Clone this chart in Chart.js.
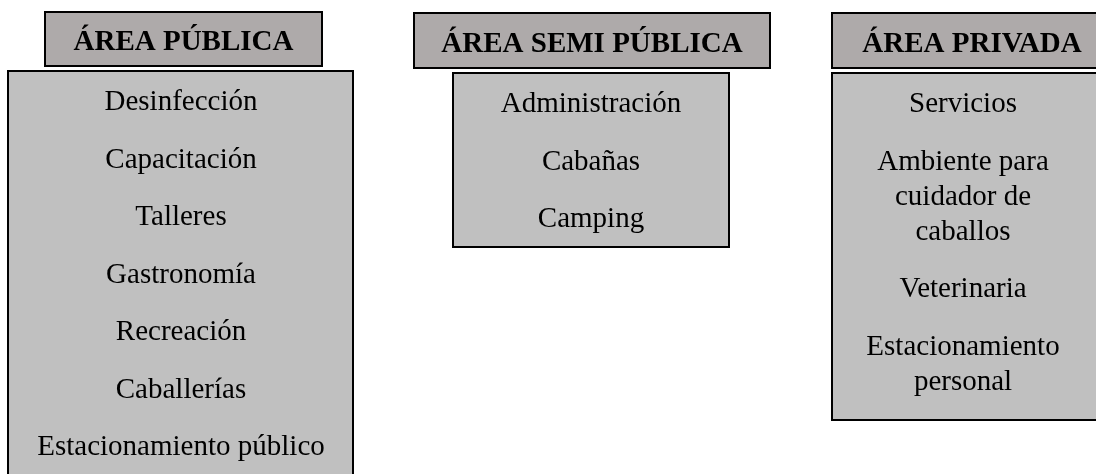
<!DOCTYPE html>
<html>
<head>
<meta charset="utf-8">
<title>Áreas</title>
<script src="https://cdn.jsdelivr.net/npm/chart.js@4.4.1/dist/chart.umd.min.js"></script>
<style>
  html, body { margin: 0; padding: 0; background: #ffffff; }
  #diagram { display: block; }
</style>
</head>
<body>
<canvas id="diagram" width="1096" height="474"></canvas>
<script>
// titles of the three zones
var areas = ['ÁREA PÚBLICA', 'ÁREA SEMI PÚBLICA', 'ÁREA PRIVADA'];

// what goes in each zone (\n = line break inside the same item)
var publicItems = ['Desinfección', 'Capacitación', 'Talleres', 'Gastronomía', 'Recreación', 'Caballerías', 'Estacionamiento público'];
var semiItems = ['Administración', 'Cabañas', 'Camping'];
var privateItems = ['Servicios', 'Ambiente para\ncuidador de\ncaballos', 'Veterinaria', 'Estacionamiento\npersonal'];

var itemLists = [publicItems, semiItems, privateItems];

// box geometry, one entry per column
var layout = [
    { head: [45, 12, 277, 54], body: [8, 71, 345, 420], textX: 181 },
    { head: [414, 13, 356, 55], body: [453, 73, 276, 174], textX: 591 },
    { head: [832, 13, 280, 55], body: [832, 73, 270, 347], textX: 963 }
];

var headFill = '#aeaaaa';
var bodyFill = '#c0c0c0';
var fontFamily = '"Liberation Serif", "Times New Roman", serif';

var boxesPlugin = {
    id: 'boxes',
    afterDraw: function (chart) {
        var c = chart.ctx;
        c.save();
        c.textAlign = 'center';
        c.textBaseline = 'alphabetic';
        c.fillStyle = '#ffffff';
        c.fillRect(0, 0, chart.width, chart.height);

        for (var i = 0; i < chart.data.labels.length; i++) {
            var L = layout[i];

            // header
            c.fillStyle = headFill;
            c.fillRect(L.head[0], L.head[1], L.head[2], L.head[3]);
            c.lineWidth = 2;
            c.strokeStyle = '#000000';
            c.strokeRect(L.head[0], L.head[1], L.head[2], L.head[3]);
            c.fillStyle = '#000000';
            c.font = 'bold 29px ' + fontFamily;
            c.fillText(chart.data.labels[i], (L.head[0] + L.head[2] / 2 > chart.width ? L.textX : L.head[0] + L.head[2] / 2), L.head[1] + L.head[3] / 2 + 11);

            // body
            c.fillStyle = bodyFill;
            c.fillRect(L.body[0], L.body[1], L.body[2], L.body[3]);
            c.strokeRect(L.body[0], L.body[1], L.body[2], L.body[3]);

            c.fillStyle = '#000000';
            c.font = '29px ' + fontFamily;
            var y = L.body[1] + 39;
            var items = itemLists[i];
            for (var k = 0; k < items.length; k++) {
                var lines = items[k].split('\n');
                for (var n = 0; n < lines.length; n++) {
                    c.fillText(lines[n], L.textX, y);
                    if (n < lines.length - 1) y += 35;
                }
                y += 57.5;
            }
        }
        c.restore();
    }
};

var ctx = document.getElementById('diagram').getContext('2d');
var chart = new Chart(ctx, {
    type: 'bar',
    data: {
        labels: areas,
        datasets: [{
            label: 'elementos por área',
            data: itemLists.map(function (l) { return l.length; }),
            backgroundColor: 'rgba(0,0,0,0)'
        }]
    },
    options: {
        responsive: false,
        animation: false,
        devicePixelRatio: 1,
        layout: { padding: 0 },
        plugins: {
            legend: { display: false },
            tooltip: { enabled: false }
        },
        scales: {
            x: { display: false },
            y: { display: false }
        }
    },
    plugins: [boxesPlugin]
});
</script>
</body>
</html>
